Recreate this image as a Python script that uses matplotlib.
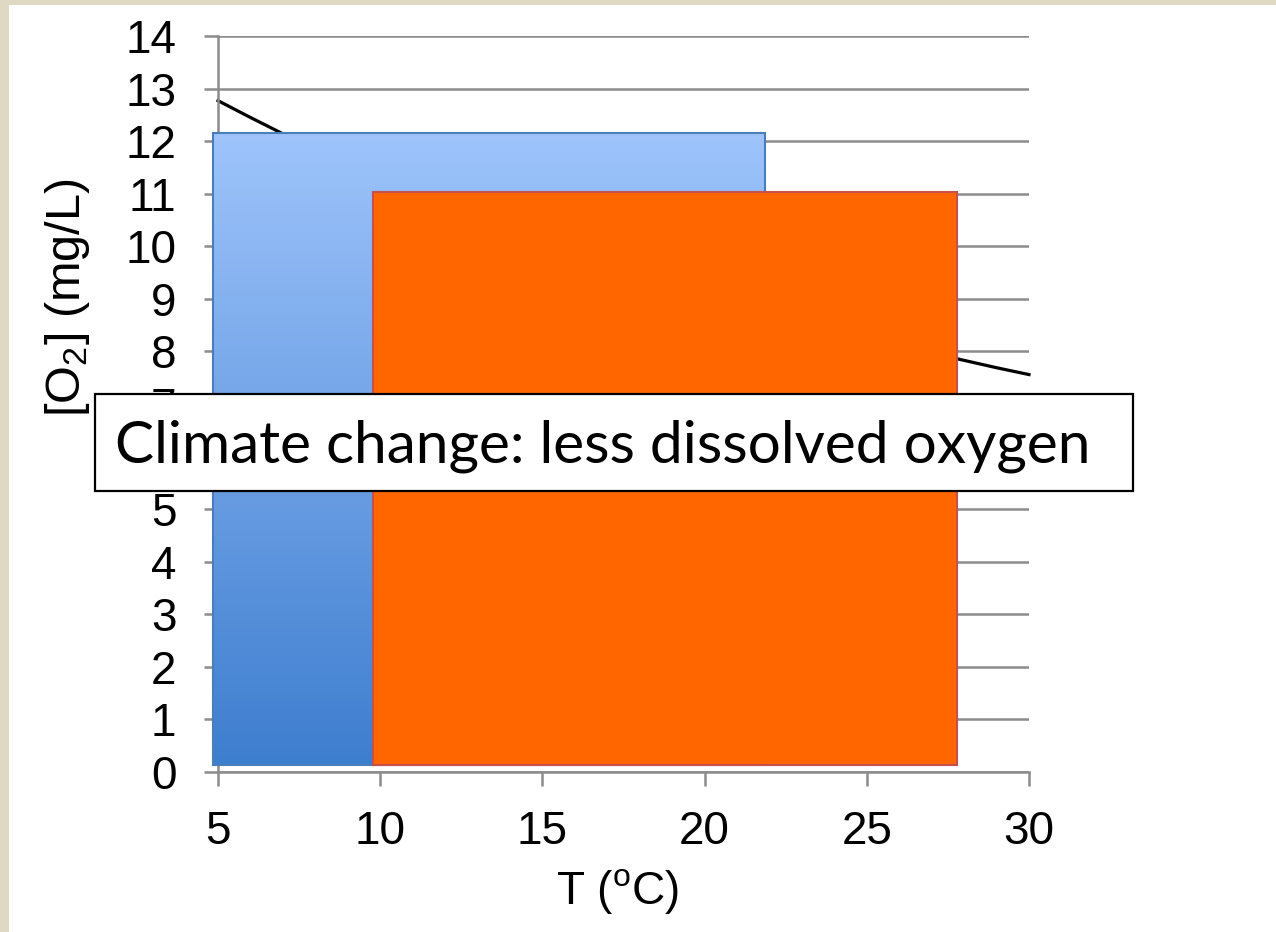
import numpy as np
import matplotlib
matplotlib.use("Agg")
import matplotlib.pyplot as plt
from matplotlib.patches import Rectangle
from matplotlib.colors import to_rgb

# dissolved oxygen saturation in fresh water (mg/L) vs temperature (deg C)
temp_c = [5, 6, 7, 8, 9, 10, 11, 12, 13, 14, 15, 16, 17, 18, 19, 20,
          21, 22, 23, 24, 25, 26, 27, 28, 29, 30]
o2_mgL = [12.77, 12.45, 12.14, 11.84, 11.56, 11.29, 11.03, 10.78, 10.54,
          10.31, 10.08, 9.87, 9.66, 9.47, 9.28, 9.09, 8.91, 8.74, 8.58,
          8.42, 8.26, 8.11, 7.97, 7.83, 7.69, 7.56]

x_ticks = [5, 10, 15, 20, 25, 30]
y_ticks = list(range(0, 15))

# overlay boxes: (x0, x1, y0, y1) in data units
blue_box = (4.85, 21.86, 0.13, 12.16)
orange_box = (9.78, 27.78, 0.14, 11.04)

caption = "Climate change: less dissolved oxygen"

plt.rcParams["font.family"] = ["Liberation Sans", "DejaVu Sans"]
plt.rcParams["mathtext.fontset"] = "custom"
plt.rcParams["mathtext.rm"] = "Liberation Sans"
plt.rcParams["mathtext.it"] = "Liberation Sans:italic"

fig = plt.figure(figsize=(12.76, 9.32), dpi=100)
fig.patch.set_facecolor("#DFD9C3")
fig.patches.append(Rectangle((9 / 1276, 0), 1, 927 / 932, transform=fig.transFigure,
                             facecolor="white", edgecolor="none", zorder=-10))

ax = fig.add_axes([218 / 1276, 160 / 932, 811 / 1276, 736 / 932])
ax.set_facecolor("none")
ax.set_xlim(5, 30)
ax.set_ylim(0, 14)
ax.set_xticks(x_ticks)
ax.set_yticks(y_ticks)
ax.yaxis.grid(True, color="#8C8C8C", linewidth=1.8, zorder=0)
ax.set_axisbelow(True)
for s in ["top", "right"]:
    ax.spines[s].set_visible(False)
for s in ["left", "bottom"]:
    ax.spines[s].set_color("#8C8C8C")
    ax.spines[s].set_linewidth(1.8)
ax.tick_params(axis="both", colors="#8C8C8C", width=1.8, length=10,
               labelsize=33, labelcolor="black")
ax.tick_params(axis="y", pad=20)
ax.tick_params(axis="x", pad=17)

ax.plot(temp_c, o2_mgL, color="black", linewidth=2.3, zorder=2, clip_on=False)

# blue box with vertical gradient
top_c = np.array(to_rgb("#9EC4FB"))
bot_c = np.array(to_rgb("#3E7ECF"))
t = np.linspace(0, 1, 256)[:, None]
grad = (top_c * (1 - t) + bot_c * t)[:, None, :]
bx0, bx1, by0, by1 = blue_box
ax.imshow(grad, extent=[bx0, bx1, by0, by1], aspect="auto", origin="upper",
          zorder=3, interpolation="bilinear", clip_on=False)
ax.add_patch(Rectangle((bx0, by0), bx1 - bx0, by1 - by0, facecolor="none",
                       edgecolor="#4A7EBB", linewidth=1.5, zorder=3.1, clip_on=False))
ax.set_xlim(5, 30)
ax.set_ylim(0, 14)

ox0, ox1, oy0, oy1 = orange_box
ax.add_patch(Rectangle((ox0, oy0), ox1 - ox0, oy1 - oy0, facecolor="#FF6600",
                       edgecolor="#C8504A", linewidth=1.5, zorder=4, clip_on=False))

fig.text(67 / 1276, 1 - 298 / 932, "[O$_2$] (mg/L)", rotation=90, ha="center",
         va="center", fontsize=35)
fig.text(618 / 1276, 1 - 892 / 932, "T ($^{\\rm o}$C)", ha="center", va="center",
         fontsize=33)

# caption box
fig.patches.append(Rectangle((95 / 1276, 1 - 491 / 932), 1038 / 1276, 97 / 932,
                             transform=fig.transFigure, facecolor="white",
                             edgecolor="black", linewidth=1.6, zorder=10))
fig.text(603 / 1276, 1 - 446 / 932, caption, ha="center", va="center",
         fontsize=42.2, family=["Lato", "DejaVu Sans"], zorder=11)

fig.savefig("out.png", dpi=100, facecolor=fig.get_facecolor())
